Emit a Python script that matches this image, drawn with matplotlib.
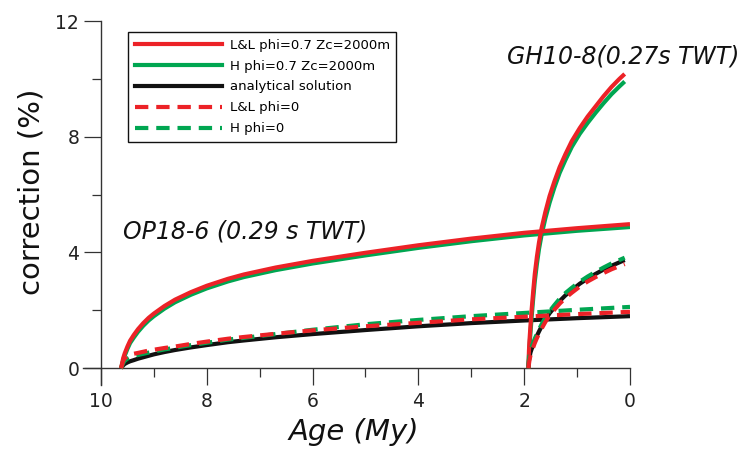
import matplotlib
matplotlib.use("Agg")
import matplotlib.pyplot as plt
from matplotlib.lines import Line2D

# ---------------- data ----------------
op_age = [9.62, 9.58, 9.55, 9.50, 9.45, 9.38, 9.30, 9.20, 9.10, 9.00, 8.80, 8.60,
          8.30, 8.00, 7.60, 7.30, 6.70, 6.00, 5.00, 4.00, 3.00, 2.00, 1.00, 0.00]
op_ll_phi07 = [0, 0.35, 0.52, 0.75, 0.95, 1.15, 1.35, 1.56, 1.74, 1.89, 2.15, 2.37,
               2.63, 2.85, 3.09, 3.24, 3.48, 3.71, 3.99, 4.25, 4.48, 4.68, 4.84, 4.98]
op_h_phi07 = [0, 0.28, 0.44, 0.67, 0.87, 1.06, 1.26, 1.47, 1.65, 1.80, 2.06, 2.28,
              2.54, 2.76, 3.00, 3.15, 3.39, 3.62, 3.90, 4.16, 4.39, 4.59, 4.75, 4.88]
op_analytical = [0, 0.10, 0.15, 0.20, 0.24, 0.28, 0.33, 0.38, 0.43, 0.48, 0.56, 0.63,
                 0.72, 0.80, 0.90, 0.96, 1.07, 1.18, 1.32, 1.45, 1.56, 1.65, 1.73, 1.80]
op_ll_phi0 = [0, 0.25, 0.35, 0.42, 0.46, 0.50, 0.53, 0.57, 0.61, 0.64, 0.70, 0.75,
              0.84, 0.92, 1.02, 1.08, 1.19, 1.31, 1.45, 1.57, 1.69, 1.78, 1.87, 1.95]
op_h_phi0 = [0, 0.18, 0.26, 0.33, 0.38, 0.42, 0.46, 0.50, 0.54, 0.58, 0.65, 0.71,
             0.80, 0.88, 0.99, 1.05, 1.18, 1.33, 1.52, 1.67, 1.80, 1.91, 2.02, 2.12]

gh_age = [1.92, 1.91, 1.90, 1.88, 1.86, 1.83, 1.80, 1.76, 1.72, 1.67, 1.60, 1.52,
          1.43, 1.33, 1.22, 1.10, 0.95, 0.80, 0.65, 0.50, 0.35, 0.20, 0.10]
gh_ll_phi07 = [0, 0.6, 0.95, 1.5, 2.0, 2.65, 3.25, 3.85, 4.35, 4.85, 5.4, 5.95,
               6.45, 6.95, 7.4, 7.85, 8.3, 8.7, 9.05, 9.4, 9.72, 10.0, 10.17]
gh_h_phi07 = [0, 0.4, 0.75, 1.25, 1.75, 2.4, 3.0, 3.6, 4.12, 4.62, 5.18, 5.72,
              6.24, 6.75, 7.2, 7.65, 8.1, 8.48, 8.83, 9.16, 9.47, 9.74, 9.91]
gh_analytical = [0, 0.25, 0.38, 0.55, 0.66, 0.80, 0.95, 1.12, 1.27, 1.45, 1.68, 1.90,
                 2.10, 2.32, 2.52, 2.70, 2.92, 3.10, 3.26, 3.41, 3.54, 3.66, 3.74]
gh_ll_phi0 = [0, 0.15, 0.28, 0.45, 0.58, 0.72, 0.87, 1.04, 1.19, 1.37, 1.60, 1.82,
              2.02, 2.23, 2.43, 2.61, 2.82, 3.00, 3.15, 3.29, 3.42, 3.53, 3.60]
gh_h_phi0 = [0, 0.30, 0.45, 0.62, 0.74, 0.88, 1.02, 1.19, 1.34, 1.52, 1.75, 1.97,
             2.18, 2.40, 2.60, 2.78, 2.99, 3.17, 3.33, 3.48, 3.62, 3.74, 3.82]

legend_labels = ["L&L phi=0.7 Zc=2000m", "H phi=0.7 Zc=2000m", "analytical solution",
                 "L&L phi=0", "H phi=0"]
x_ticks = [10, 8, 6, 4, 2, 0]
y_ticks = [0, 4, 8, 12]

# ---------------- style ----------------
RED = "#ec2227"
GREEN = "#00a651"
BLACK = "#111111"
LW = 3.0
DASH = (0, (3.2, 1.9))

plt.rcParams["font.family"] = ["DejaVu Sans"]

fig = plt.figure(figsize=(7.43, 4.55), dpi=100)
ax = fig.add_axes([0.1117, 0.1538, 0.7362, 0.8])

for ages, h07, ll07, an, h0, ll0 in [
    (op_age, op_h_phi07, op_ll_phi07, op_analytical, op_h_phi0, op_ll_phi0),
    (gh_age, gh_h_phi07, gh_ll_phi07, gh_analytical, gh_h_phi0, gh_ll_phi0),
]:
    ax.plot(ages, h07, color=GREEN, lw=LW, solid_capstyle="butt", solid_joinstyle="round", zorder=3)
    ax.plot(ages, ll07, color=RED, lw=LW, solid_capstyle="butt", solid_joinstyle="round", zorder=4)
    ax.plot(ages, an, color=BLACK, lw=LW, solid_capstyle="butt", solid_joinstyle="round", zorder=3)
    ax.plot(ages, h0, color=GREEN, lw=LW, ls=DASH, dash_capstyle="butt", zorder=4)
    ax.plot(ages, ll0, color=RED, lw=LW, ls=DASH, dash_capstyle="butt", zorder=5)

ax.set_xlim(10.34, 0)
ax.set_ylim(-0.58, 12)

for s in ["top", "right"]:
    ax.spines[s].set_visible(False)
ax.spines["left"].set_position(("data", 10))
ax.spines["bottom"].set_position(("data", 0))
for s in ["left", "bottom"]:
    ax.spines[s].set_linewidth(1.0)
    ax.spines[s].set_color("#333333")

ax.set_xticks(x_ticks)
ax.set_xticklabels([str(v) for v in x_ticks])
ax.set_xticks([9, 7, 5, 3, 1], minor=True)
ax.set_yticks(y_ticks)
ax.set_yticklabels([str(v) for v in y_ticks])
ax.set_yticks([2, 6, 10], minor=True)
ax.tick_params(axis="both", which="major", direction="out", length=12.2, width=0.9,
               color="#333333", labelsize=13.5, labelcolor="#222222")
ax.tick_params(axis="both", which="minor", direction="out", length=6.5, width=0.9,
               color="#333333")
ax.tick_params(axis="x", which="major", pad=5)
ax.tick_params(axis="y", which="major", pad=3.5)

fig.text(354 / 743, 1 - 432 / 455, "Age (My)", ha="center", va="center",
         fontsize=21, style="italic", color="#111111")
fig.text(32 / 743, 1 - 192 / 455, "correction (%)", ha="center", va="center",
         fontsize=21, rotation=90, color="#111111")

ax.text(7.27, 4.71, "OP18-6 (0.29 s TWT)", ha="center", va="center",
        fontsize=17, style="italic", color="#111111")
ax.text(0.13, 10.76, "GH10-8(0.27s TWT)", ha="center", va="center",
        fontsize=17, style="italic", color="#111111", clip_on=False)

handles = [
    Line2D([], [], color=RED, lw=LW),
    Line2D([], [], color=GREEN, lw=LW),
    Line2D([], [], color=BLACK, lw=LW),
    Line2D([], [], color=RED, lw=LW, ls=DASH),
    Line2D([], [], color=GREEN, lw=LW, ls=DASH),
]
leg = fig.legend(handles, legend_labels, loc="upper left",
                 bbox_to_anchor=(128 / 743, 1 - 32 / 455), bbox_transform=fig.transFigure,
                 borderaxespad=0, fontsize=9.5, handlelength=6.6, handletextpad=0.6,
                 borderpad=0.5, labelspacing=0.6, fancybox=False, framealpha=1,
                 edgecolor="#111111")
leg.get_frame().set_linewidth(1.0)

fig.savefig("out.png", dpi=100)
